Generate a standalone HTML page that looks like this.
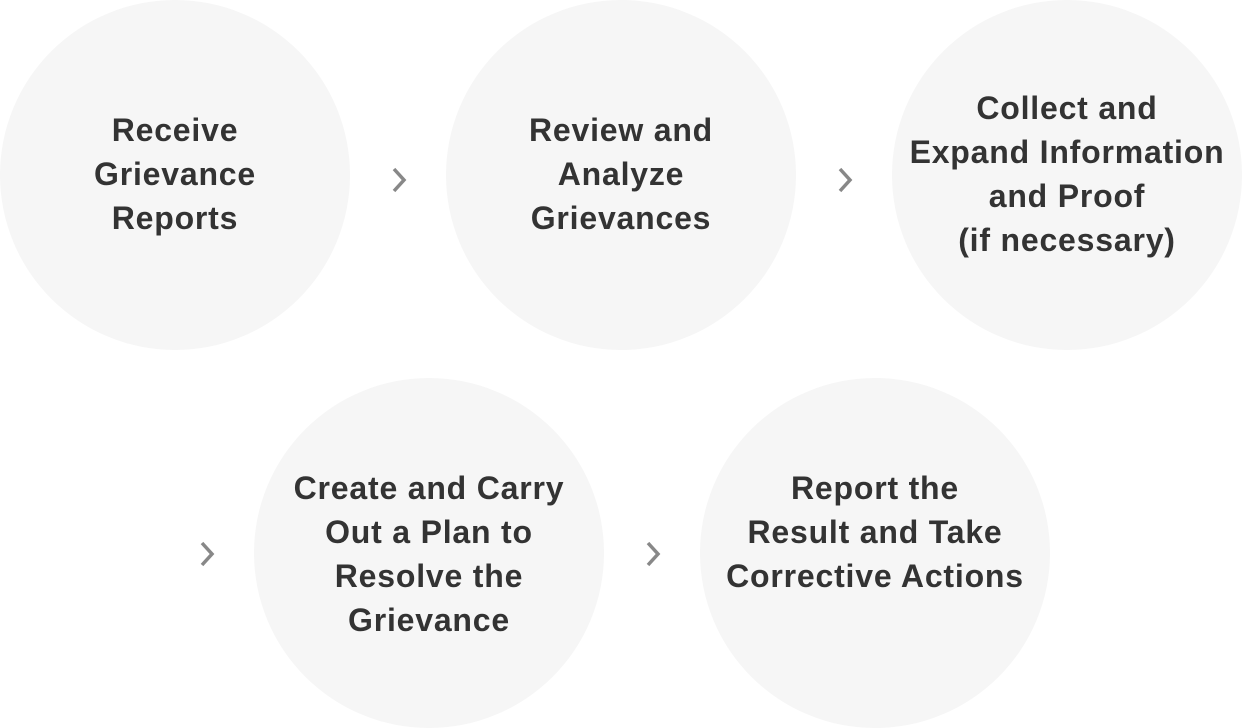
<!DOCTYPE html>
<html><head><meta charset="utf-8"><style>
body{margin:0;width:1248px;height:728px;background:#fff;position:relative;overflow:hidden;font-family:"Liberation Sans",sans-serif;}
.c{position:absolute;width:350px;height:350px;border-radius:50%;background:#f6f6f6;display:flex;align-items:center;justify-content:center;text-align:center;color:#333;font-weight:bold;font-size:32px;line-height:44px;letter-spacing:0.8px;white-space:nowrap;}
.c div{margin-top:-2px}
svg{position:absolute}
</style></head><body>
<div class="c" style="left:0;top:0"><div>Receive<br>Grievance<br>Reports</div></div>
<div class="c" style="left:446px;top:0"><div>Review and<br>Analyze<br>Grievances</div></div>
<div class="c" style="left:892px;top:0"><div>Collect and<br>Expand Information<br>and Proof<br>(if necessary)</div></div>
<div class="c" style="left:254px;top:378px"><div style="margin-top:2px">Create and Carry<br>Out a Plan to<br>Resolve the<br>Grievance</div></div>
<div class="c" style="left:700px;top:378px"><div style="margin-top:-42px">Report the<br>Result and Take<br>Corrective Actions</div></div>
<svg style="left:390px;top:165px" width="24" height="30"><polyline points="4,4 14,15 4,26" fill="none" stroke="#888" stroke-width="3.5"/></svg>
<svg style="left:836px;top:165px" width="24" height="30"><polyline points="4,4 14,15 4,26" fill="none" stroke="#888" stroke-width="3.5"/></svg>
<svg style="left:198px;top:539px" width="24" height="30"><polyline points="4,4 14,15 4,26" fill="none" stroke="#888" stroke-width="3.5"/></svg>
<svg style="left:644px;top:539px" width="24" height="30"><polyline points="4,4 14,15 4,26" fill="none" stroke="#888" stroke-width="3.5"/></svg>
</body></html>
